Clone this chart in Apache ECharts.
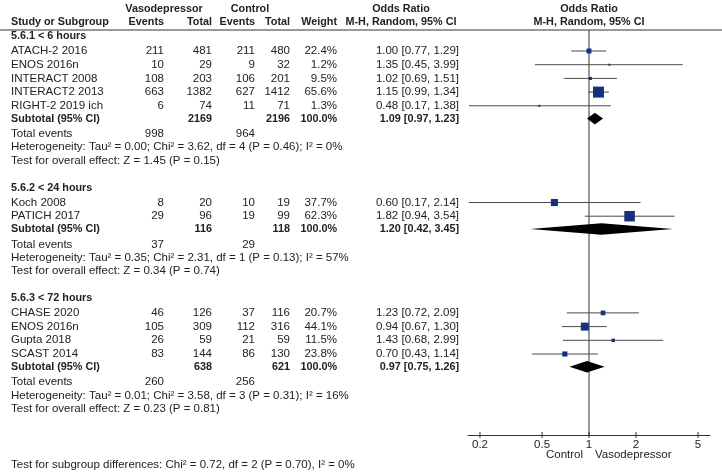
<!DOCTYPE html>
<html><head><meta charset="utf-8">
<script src="https://cdn.jsdelivr.net/npm/echarts@6/dist/echarts.min.js"></script>
<style>html,body{margin:0;padding:0;background:#fff}#c{width:722px;height:472px}</style>
</head><body><div id="c"></div>
<script>
// ---------------- DATA ----------------
const subgroupNames = ['5.6.1 < 6 hours', '5.6.2 < 24 hours', '5.6.3 < 72 hours'];
const studyNames = ['ATACH-2 2016', 'ENOS 2016n', 'INTERACT 2008', 'INTERACT2 2013', 'RIGHT-2 2019 ich',
  'Koch 2008', 'PATICH 2017',
  'CHASE 2020', 'ENOS 2016n', 'Gupta 2018', 'SCAST 2014'];
const studyGroup = [0, 0, 0, 0, 0, 1, 1, 2, 2, 2, 2];
const vasoEvents = [211, 10, 108, 663, 6, 8, 29, 46, 105, 26, 83];
const vasoTotal = [481, 29, 203, 1382, 74, 20, 96, 126, 309, 59, 144];
const ctrlEvents = [211, 9, 106, 627, 11, 10, 19, 37, 112, 21, 86];
const ctrlTotal = [480, 32, 201, 1412, 71, 19, 99, 116, 316, 59, 130];
const weights = [22.4, 1.2, 9.5, 65.6, 1.3, 37.7, 62.3, 20.7, 44.1, 11.5, 23.8];
const orEst = [1.00, 1.35, 1.02, 1.15, 0.48, 0.60, 1.82, 1.23, 0.94, 1.43, 0.70];
const orLow = [0.77, 0.45, 0.69, 0.99, 0.17, 0.17, 0.94, 0.72, 0.67, 0.68, 0.43];
const orHigh = [1.29, 3.99, 1.51, 1.34, 1.38, 2.14, 3.54, 2.09, 1.30, 2.99, 1.14];

const subVasoTotal = [2169, 116, 638];
const subCtrlTotal = [2196, 118, 621];
const subVasoEvents = [998, 37, 260];
const subCtrlEvents = [964, 29, 256];
const subEst = [1.09, 1.20, 0.97];
const subLow = [0.97, 0.42, 0.75];
const subHigh = [1.23, 3.45, 1.26];
const heterogeneity = [
  'Tau² = 0.00; Chi² = 3.62, df = 4 (P = 0.46); I² = 0%',
  'Tau² = 0.35; Chi² = 2.31, df = 1 (P = 0.13); I² = 57%',
  'Tau² = 0.01; Chi² = 3.58, df = 3 (P = 0.31); I² = 16%'];
const overallEffect = ['Z = 1.45 (P = 0.15)', 'Z = 0.34 (P = 0.74)', 'Z = 0.23 (P = 0.81)'];
const subgroupDiff = 'Chi² = 0.72, df = 2 (P = 0.70), I² = 0%';
const xTicks = [0.2, 0.5, 1, 2, 5];
const xTickLabels = ['0.2', '0.5', '1', '2', '5'];
const favourLeft = 'Control', favourRight = 'Vasodepressor';

// ---------------- LAYOUT / STYLE ----------------
const FF = '"Liberation Sans", Arial, sans-serif';
const FONT_R = '11.5px ' + FF;
const FONT_B = 'bold 10.8px ' + FF;
const TXT = '#222';
const GRID_TOP = 30, GRID_H = 405;
const COL = { study: 11, vE: 164, vT: 212, cE: 255, cT: 290, w: 337, or: 459 };

const L = { header: [], study: [], subtotal: [], totalEv: [], het: [], test: [] };
let yy = 36.5;
for (let g = 0; g < subgroupNames.length; g++) {
  L.header[g] = yy;
  yy += 14.5;
  const idx = studyGroup.map((s, i) => s === g ? i : -1).filter(i => i >= 0);
  idx.forEach((i, k) => { L.study[i] = yy; if (k < idx.length - 1) yy += 13.7; });
  yy += 12.8; L.subtotal[g] = yy;
  yy += 15.5; L.totalEv[g] = yy;
  yy += 13.2; L.het[g] = yy;
  yy += 13.2; L.test[g] = yy;
  yy += 27.5;
}
const diffY = L.test[2] + 56;

const fmt2 = v => v.toFixed(2);
const ciText = (e, l, h) => fmt2(e) + ' [' + fmt2(l) + ', ' + fmt2(h) + ']';

const graphics = [];
function T(text, x, y, align, bold) {
  graphics.push({
    type: 'text', x: x, y: y, silent: true,
    style: { text: String(text), font: bold ? FONT_B : FONT_R, fill: TXT,
      align: align || 'left', textAlign: align || 'left',
      verticalAlign: 'middle', textVerticalAlign: 'middle' }
  });
}
// headers
T('Vasodepressor', 164, 9, 'center', true);
T('Control', 250, 9, 'center', true);
T('Odds Ratio', 401, 9, 'center', true);
T('Odds Ratio', 589, 9, 'center', true);
T('Study or Subgroup', COL.study, 22.5, 'left', true);
T('Events', COL.vE, 22.5, 'right', true);
T('Total', COL.vT, 22.5, 'right', true);
T('Events', COL.cE, 22.5, 'right', true);
T('Total', COL.cT, 22.5, 'right', true);
T('Weight', COL.w, 22.5, 'right', true);
T('M-H, Random, 95% CI', 401, 22.5, 'center', true);
T('M-H, Random, 95% CI', 589, 22.5, 'center', true);
graphics.push({ type: 'line', silent: true, shape: { x1: 0, y1: GRID_TOP, x2: 722, y2: GRID_TOP },
  style: { stroke: '#333', lineWidth: 1 } });

for (let g = 0; g < subgroupNames.length; g++) {
  T(subgroupNames[g], COL.study, L.header[g], 'left', true);
  T('Subtotal (95% CI)', COL.study, L.subtotal[g], 'left', true);
  T(subVasoTotal[g], COL.vT, L.subtotal[g], 'right', true);
  T(subCtrlTotal[g], COL.cT, L.subtotal[g], 'right', true);
  T('100.0%', COL.w, L.subtotal[g], 'right', true);
  T(ciText(subEst[g], subLow[g], subHigh[g]), COL.or, L.subtotal[g], 'right', true);
  T('Total events', COL.study, L.totalEv[g], 'left');
  T(subVasoEvents[g], COL.vE, L.totalEv[g], 'right');
  T(subCtrlEvents[g], COL.cE, L.totalEv[g], 'right');
  T('Heterogeneity: ' + heterogeneity[g], COL.study, L.het[g], 'left');
  T('Test for overall effect: ' + overallEffect[g], COL.study, L.test[g], 'left');
}
studyNames.forEach((n, i) => {
  const y = L.study[i];
  T(n, COL.study, y, 'left');
  T(vasoEvents[i], COL.vE, y, 'right');
  T(vasoTotal[i], COL.vT, y, 'right');
  T(ctrlEvents[i], COL.cE, y, 'right');
  T(ctrlTotal[i], COL.cT, y, 'right');
  T(weights[i].toFixed(1) + '%', COL.w, y, 'right');
  T(ciText(orEst[i], orLow[i], orHigh[i]), COL.or, y, 'right');
});
T('Test for subgroup differences: ' + subgroupDiff, COL.study, diffY, 'left');

// ---------------- CHART ----------------
const chart = echarts.init(document.getElementById('c'), null, { renderer: 'canvas' });
const studyData = studyNames.map((n, i) => [orEst[i], orLow[i], orHigh[i], L.study[i] - GRID_TOP, weights[i]]);
const subData = subEst.map((e, g) => [e, subLow[g], subHigh[g], L.subtotal[g] - GRID_TOP]);

chart.setOption({
  animation: false,
  backgroundColor: '#fff',
  grid: { left: 468, right: 12, top: GRID_TOP, height: GRID_H },
  xAxis: {
    type: 'log', logBase: 10, min: 0.1676, max: 5.966,
    axisLine: { show: true, onZero: false, lineStyle: { color: '#333', width: 1 } },
    axisTick: { show: false }, axisLabel: { show: false }, splitLine: { show: false }
  },
  yAxis: { type: 'value', min: 0, max: GRID_H, inverse: true, show: false },
  graphic: { elements: graphics },
  series: [
    { // reference line at OR = 1, ticks, labels
      type: 'custom', clip: false, silent: true, z: 1,
      data: [[1, 0]], encode: { x: 0, y: 1 },
      renderItem: function (params, api) {
        const top = api.coord([1, 0]);
        const bot = api.coord([1, GRID_H]);
        const ch = [{ type: 'line', shape: { x1: top[0], y1: top[1], x2: bot[0], y2: bot[1] },
          style: { stroke: '#333', lineWidth: 1 } }];
        xTicks.forEach((v, k) => {
          const p = api.coord([v, GRID_H]);
          ch.push({ type: 'line', shape: { x1: p[0], y1: p[1] - 3, x2: p[0], y2: p[1] + 3 },
            style: { stroke: '#333', lineWidth: 1 } });
          ch.push({ type: 'text', x: p[0], y: p[1] + 10,
            style: { text: xTickLabels[k], font: FONT_R, fill: TXT, align: 'center', verticalAlign: 'middle' } });
        });
        ch.push({ type: 'text', x: bot[0] - 6, y: bot[1] + 20,
          style: { text: favourLeft, font: FONT_R, fill: TXT, align: 'right', verticalAlign: 'middle' } });
        ch.push({ type: 'text', x: bot[0] + 6, y: bot[1] + 20,
          style: { text: favourRight, font: FONT_R, fill: TXT, align: 'left', verticalAlign: 'middle' } });
        return { type: 'group', children: ch };
      }
    },
    { // study CIs and weighted squares
      type: 'custom', clip: false, silent: true, z: 3,
      data: studyData, encode: { x: [0, 1, 2], y: 3 },
      renderItem: function (params, api) {
        const y = api.value(3), w = api.value(4);
        const c = api.coord([api.value(0), y]);
        const lo = api.coord([api.value(1), y]);
        const hi = api.coord([api.value(2), y]);
        const s = 1.8 + 0.14 * w;
        return { type: 'group', children: [
          { type: 'line', shape: { x1: lo[0], y1: c[1], x2: hi[0], y2: c[1] },
            style: { stroke: '#4a4a4a', lineWidth: 1 } },
          { type: 'rect', shape: { x: c[0] - s / 2, y: c[1] - s / 2, width: s, height: s },
            style: { fill: '#15307c' } }
        ] };
      }
    },
    { // subtotal diamonds
      type: 'custom', clip: false, silent: true, z: 3,
      data: subData, encode: { x: [0, 1, 2], y: 3 },
      renderItem: function (params, api) {
        const y = api.value(3);
        const c = api.coord([api.value(0), y]);
        const lo = api.coord([api.value(1), y]);
        const hi = api.coord([api.value(2), y]);
        const h = 5.8;
        return { type: 'polygon',
          shape: { points: [[lo[0], c[1]], [c[0], c[1] - h], [hi[0], c[1]], [c[0], c[1] + h]] },
          style: { fill: '#000' } };
      }
    }
  ]
});
</script></body></html>
